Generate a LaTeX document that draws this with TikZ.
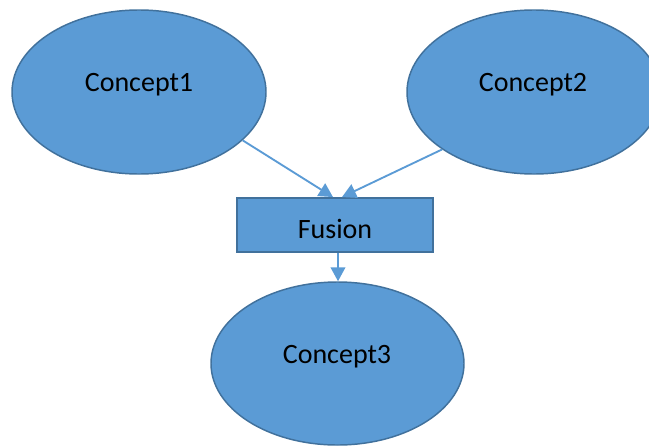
\documentclass[tikz,border=0pt]{standalone}
\usepackage{fontspec}
\setmainfont{Carlito}
\usetikzlibrary{arrows.meta,shapes.geometric}
\definecolor{fillblue}{HTML}{5B9BD5}
\definecolor{edgeblue}{HTML}{41719C}
\begin{document}
\begin{tikzpicture}[x=0.75pt,y=-0.75pt,
  ell/.style={ellipse, draw=edgeblue, fill=fillblue, line width=1.1pt, inner sep=0pt,
              minimum width=254*0.75pt, minimum height=164*0.75pt},
  boxnode/.style={rectangle, draw=edgeblue, fill=fillblue, line width=1.4pt, inner sep=0pt,
              minimum width=196*0.75pt, minimum height=54*0.75pt},
  txt/.style={anchor=base, inner sep=0pt, font=\fontsize{21}{25}\selectfont, text=black},
  conn/.style={draw=fillblue, line width=1.4pt, -{Triangle[length=10.5pt,width=11pt]}}]
\useasboundingbox (0,0) rectangle (649,446);
\clip (0,0) rectangle (649,446);
\node[ell] (c1) at (139,92) {};
\node[ell] (c2) at (534,92) {};
\node[boxnode] (f) at (335,225) {};
\node[ell, minimum width=253*0.75pt, minimum height=163*0.75pt] (c3) at (337.5,363.5) {};
\node[txt] (t1) at (139,91) {Concept1};
\node[txt] (t2) at (533,91) {Concept2};
\node[txt] (tf) at (335,238) {Fusion};
\node[txt] (t3) at (337,363) {Concept3};
\draw[conn] (c1.-25) -- ([xshift=-2*0.75pt]f.north);
\draw[conn] (c2.-148) -- ([xshift=7*0.75pt]f.north);
\draw[conn] ([xshift=3*0.75pt]f.south) -- ([xshift=0.5*0.75pt]c3.north);
\end{tikzpicture}
\end{document}
